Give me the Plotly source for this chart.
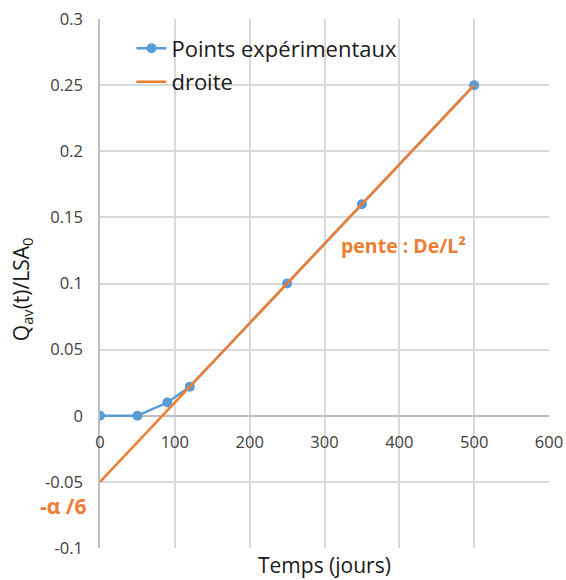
import plotly.graph_objects as go

# experimental points
temps = [0, 50, 90, 120, 250, 350, 500]
q_ratio = [0, 0, 0.01, 0.022, 0.1, 0.16, 0.25]

# fitted straight line
droite_x = [0, 500]
droite_y = [-0.05, 0.25]

x_ticks = [0, 100, 200, 300, 400, 500, 600]
y_ticks = [-0.1, -0.05, 0, 0.05, 0.1, 0.15, 0.2, 0.25, 0.3]
y_labels = ["-0.1", "-0.05", "0", "0.05", "0.1", "0.15", "0.2", "0.25", "0.3"]

blue = "#5B9BD5"
orange = "#ED7D31"
grid = "#D9D9D9"
font = "Open Sans"

fig = go.Figure()
fig.add_trace(go.Scatter(
    x=temps, y=q_ratio, mode="lines+markers", name="Points expérimentaux",
    legendgroup="a",
    line=dict(color=blue, width=2.5), marker=dict(color=blue, size=10)))
fig.add_trace(go.Scatter(
    x=droite_x, y=droite_y, mode="lines", name="droite", legendgroup="b",
    line=dict(color=orange, width=2.5)))

fig.update_layout(
    width=566, height=580,
    margin=dict(l=100, r=17, t=19, b=32),
    paper_bgcolor="white", plot_bgcolor="white",
    font=dict(family=font, color="#404040", size=16.5),
    showlegend=True,
    legend=dict(x=0.07, y=0.984, xanchor="left", yanchor="top",
                bgcolor="rgba(0,0,0,0)", font=dict(size=22, color="#1a1a1a"),
                tracegroupgap=2),
    xaxis=dict(range=[0, 600.001], tickvals=x_ticks, showgrid=True, gridcolor=grid,
               gridwidth=1.5, zeroline=False, showline=False, automargin=False,
               anchor="free", position=0.25,
               ticks="outside", ticklen=11, tickcolor="rgba(0,0,0,0)"),
    yaxis=dict(range=[-0.1, 0.30001], tickvals=y_ticks, ticktext=y_labels,
               showgrid=True, gridcolor=grid, gridwidth=1.5, automargin=False,
               zeroline=True, zerolinecolor="#BFBFBF", zerolinewidth=1.5,
               showline=True, linecolor="#BFBFBF", linewidth=1.5,
               ticks="outside", ticklen=12, tickcolor="rgba(0,0,0,0)"),
)

fig.add_annotation(x=0.5, y=-0.1, xref="paper", yref="y", xanchor="center",
                   yanchor="top", yshift=-1, showarrow=False, text="Temps (jours)",
                   font=dict(size=21, color="#1a1a1a", family=font))
fig.add_annotation(x=-0.175, y=0.49, xref="paper", yref="paper", textangle=-90,
                   xanchor="center", yanchor="middle", showarrow=False,
                   text="Q<sub>av</sub>(t)/LSA<sub>0</sub>",
                   font=dict(size=21, color="#1a1a1a", family=font))
fig.add_annotation(x=405, y=0.129, xref="x", yref="y", xanchor="center",
                   showarrow=False, text="<b>pente : De/L²</b>",
                   font=dict(size=19.5, color=orange, family=font))
fig.add_annotation(x=-0.082, y=-0.068, xref="paper", yref="y", xanchor="center",
                   yanchor="middle", showarrow=False, text="<b>-α /6</b>",
                   font=dict(size=21, color=orange, family=font))

# drop the default 8px page margin so the figure sits at the window corner
fig.write_html("out.html", config={"displayModeBar": False},
               post_script="document.body.style.margin='0px';")
